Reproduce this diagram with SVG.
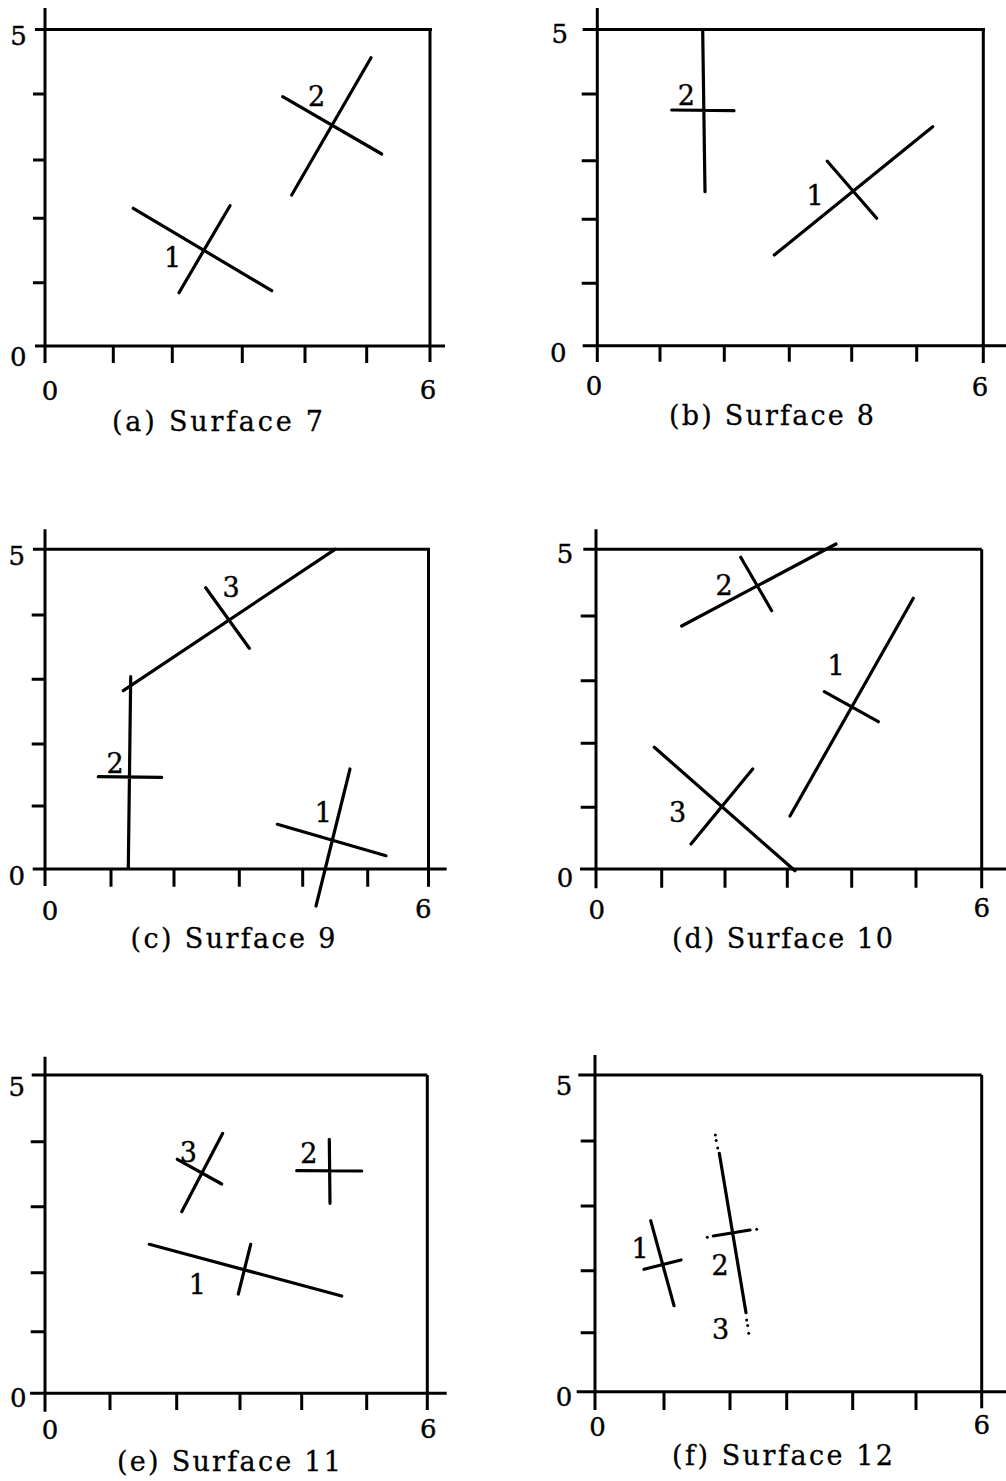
<svg xmlns="http://www.w3.org/2000/svg" width="1006" height="1481" viewBox="0 0 1006 1481">
<style>
.ax{stroke:#000;stroke-width:3;fill:none;stroke-linecap:butt}
.tk{stroke:#000;stroke-width:3;fill:none}
.seg{stroke:#000;stroke-width:3.2;fill:none;stroke-linecap:round}
.num{font-family:"DejaVu Serif","Liberation Serif",serif;font-size:26px;fill:#000;stroke:#000;stroke-width:0.4;text-anchor:middle}
.lbl{font-family:"DejaVu Serif","Liberation Serif",serif;font-size:27px;fill:#000;stroke:#000;stroke-width:0.4;text-anchor:middle}
.cap{font-family:"DejaVu Serif","Liberation Serif",serif;font-size:27px;fill:#000;stroke:#000;stroke-width:0.3}
.dot{fill:#000}
</style>
<rect width="1006" height="1481" fill="#fff"/>

<!-- Panel (a) -->
<g id="panel-a">
  <g id="axes-a">
    <path class="ax" d="M45 8V363M35 29.5H432M430 29.5V362M35 346H445"/>
    <path class="tk" d="M33 94H45M33 160H45M33 218.3H45M33 282.7H45M113.3 346V363M172.3 346V363M242.3 346V363M305 346V363M366.7 346V363"/>
    <text class="num" x="18.5" y="45">5</text>
    <text class="num" x="18.3" y="366">0</text>
    <text class="num" x="50" y="399.5">0</text>
    <text class="num" x="428" y="398.5">6</text>
  </g>
  <g id="a-fracture-1">
    <path class="seg" d="M133.3 208.3L271.7 290.7M179 292.7L230 205.7"/>
    <text class="lbl" x="172.7" y="267">1</text>
  </g>
  <g id="a-fracture-2">
    <path class="seg" d="M291.7 195L371 57.7M282.7 96.7L381.7 154"/>
    <text class="lbl" x="316.7" y="105.5">2</text>
  </g>
  <text class="cap" x="112" y="431" textLength="211" lengthAdjust="spacing">(a) Surface 7</text>
</g>

<!-- Panel (b) -->
<g id="panel-b">
  <g id="axes-b">
    <path class="ax" d="M597.3 8V362M582.7 29.5H985M983.3 29.5V363M582.7 345.7H1006"/>
    <path class="tk" d="M581.7 94H597.3M581.7 160.7H597.3M581.7 219.3H597.3M581.7 283.3H597.3M660 345.7V361.7M724.3 345.7V361.7M789.3 345.7V361.7M851.7 345.7V361.7M916.7 345.7V361.7"/>
    <text class="num" x="559.7" y="43">5</text>
    <text class="num" x="558.3" y="361.5">0</text>
    <text class="num" x="594" y="394.5">0</text>
    <text class="num" x="980" y="396">6</text>
  </g>
  <g id="b-fracture-2">
    <path class="seg" d="M702.7 30.7L705 191.7M671.7 110L734 110.7"/>
    <text class="lbl" x="686.3" y="105">2</text>
  </g>
  <g id="b-fracture-1">
    <path class="seg" d="M774.3 255L932.7 126.7M827.3 161.3L876.7 218.3"/>
    <text class="lbl" x="815" y="204.5">1</text>
  </g>
  <text class="cap" x="669" y="425" textLength="205" lengthAdjust="spacing">(b) Surface 8</text>
</g>

<!-- Panel (c) -->
<g id="panel-c">
  <g id="axes-c">
    <path class="ax" d="M45 529.3V886M33 549.3H430M428.5 549.3V886.7M32.7 869H446.7"/>
    <path class="tk" d="M31.7 615H45M31.7 679.3H45M31.7 744H45M31.7 806H45M111 869V886.7M174 869V886.7M239.3 869V886.7M302.7 869V886.7M367.7 869V886.7"/>
    <text class="num" x="16.7" y="565">5</text>
    <text class="num" x="16.7" y="885">0</text>
    <text class="num" x="50" y="919.5">0</text>
    <text class="num" x="423.3" y="917.5">6</text>
  </g>
  <g id="c-fracture-2">
    <path class="seg" d="M130.7 676.7L128.3 868.3M98.3 776.7L161.7 777.3"/>
    <text class="lbl" x="115" y="773">2</text>
  </g>
  <g id="c-fracture-3">
    <path class="seg" d="M123.3 690.7L335 549.3M205.7 587.7L249.3 648.3"/>
    <text class="lbl" x="231" y="596.5">3</text>
  </g>
  <g id="c-fracture-1">
    <path class="seg" d="M350 769L316 906M277.3 824.3L386 855.7"/>
    <text class="lbl" x="323.3" y="821.5">1</text>
  </g>
  <text class="cap" x="130.5" y="948" textLength="205" lengthAdjust="spacing">(c) Surface 9</text>
</g>

<!-- Panel (d) -->
<g id="panel-d">
  <g id="axes-d">
    <path class="ax" d="M596 529.3V888.3M583.3 549.3H981.7M981.7 549.3V888.3M580 869H1006"/>
    <path class="tk" d="M580.7 616H596M580.7 680.7H596M580.7 743.3H596M580.7 807.3H596M661.7 869V887.7M725 869V887.7M787.3 869V887.7M851.7 869V887.7M916 869V887.7"/>
    <text class="num" x="565" y="563">5</text>
    <text class="num" x="565" y="887">0</text>
    <text class="num" x="596.7" y="918.5">0</text>
    <text class="num" x="981.7" y="917">6</text>
  </g>
  <g id="d-fracture-2">
    <path class="seg" d="M681.7 626L836 544M740.7 557.3L771.7 610.7"/>
    <text class="lbl" x="724" y="595">2</text>
  </g>
  <g id="d-fracture-1">
    <path class="seg" d="M790 816L913.3 598.3M824.3 691.7L878.3 721.7"/>
    <text class="lbl" x="836" y="675">1</text>
  </g>
  <g id="d-fracture-3">
    <path class="seg" d="M654.3 747.3L795 870.7M691 844L752.7 769"/>
    <text class="lbl" x="677.5" y="821.5">3</text>
  </g>
  <text class="cap" x="672" y="948" textLength="221" lengthAdjust="spacing">(d) Surface 10</text>
</g>

<!-- Panel (e) -->
<g id="panel-e">
  <g id="axes-e">
    <path class="ax" d="M45 1056.7V1411.7M31.7 1075H427.3M427.3 1075V1410M30 1393.3H446.7"/>
    <path class="tk" d="M30.7 1141.7H45M30.7 1206.7H45M30.7 1272.7H45M30.7 1331.7H45M110 1393.3V1410M176.7 1393.3V1410M240 1393.3V1410M301.7 1393.3V1410M366.7 1393.3V1410"/>
    <text class="num" x="16.7" y="1095.5">5</text>
    <text class="num" x="18.3" y="1407">0</text>
    <text class="num" x="50" y="1438.5">0</text>
    <text class="num" x="428.3" y="1437.5">6</text>
  </g>
  <g id="e-fracture-1">
    <path class="seg" d="M149.3 1244.3L341.7 1296M250.7 1244.3L238.3 1294"/>
    <text class="lbl" x="197.3" y="1293.5">1</text>
  </g>
  <g id="e-fracture-3">
    <path class="seg" d="M222.7 1133.3L181.7 1211.7M177.3 1159.3L221.7 1184"/>
    <text class="lbl" x="188.3" y="1161.5">3</text>
  </g>
  <g id="e-fracture-2">
    <path class="seg" d="M329.3 1139.3L330 1203.3M296.7 1170.7L361.7 1171"/>
    <text class="lbl" x="308.8" y="1162.5">2</text>
  </g>
  <text class="cap" x="117" y="1471" textLength="224" lengthAdjust="spacing">(e) Surface 11</text>
</g>

<!-- Panel (f) -->
<g id="panel-f">
  <g id="axes-f">
    <path class="ax" d="M595 1055V1410M578.3 1075H981.7M981.7 1075V1408.3M576.7 1391.7H1006"/>
    <path class="tk" d="M580.7 1141H595M580.7 1206H595M580.7 1270.7H595M580.7 1332.7H595M664 1391.7V1410M730 1391.7V1410M786.7 1391.7V1410M852.7 1391.7V1410M916 1391.7V1410"/>
    <text class="num" x="564" y="1094.5">5</text>
    <text class="num" x="564" y="1405.5">0</text>
    <text class="num" x="597.5" y="1436">0</text>
    <text class="num" x="981.7" y="1433.5">6</text>
  </g>
  <g id="f-fracture-1">
    <path class="seg" d="M650.7 1220.7L674 1305.7M644 1269.3L681 1260"/>
    <text class="lbl" x="640" y="1258">1</text>
  </g>
  <g id="f-fracture-2-3">
    <path class="seg" d="M719.3 1153.3L746 1312.7M713.3 1236L750 1230"/>
    <circle class="dot" cx="715.3" cy="1135" r="1.5"/>
    <circle class="dot" cx="716.2" cy="1140.5" r="1.5"/>
    <circle class="dot" cx="717.7" cy="1148" r="1.5"/>
    <circle class="dot" cx="746.7" cy="1320" r="1.5"/>
    <circle class="dot" cx="747.7" cy="1325.5" r="1.5"/>
    <circle class="dot" cx="748.7" cy="1333.3" r="1.5"/>
    <circle class="dot" cx="707.3" cy="1237.3" r="1.5"/>
    <circle class="dot" cx="756.7" cy="1229.3" r="1.5"/>
    <text class="lbl" x="720" y="1275">2</text>
    <text class="lbl" x="720.5" y="1339">3</text>
  </g>
  <text class="cap" x="672" y="1465" textLength="221" lengthAdjust="spacing">(f) Surface 12</text>
</g>
</svg>
